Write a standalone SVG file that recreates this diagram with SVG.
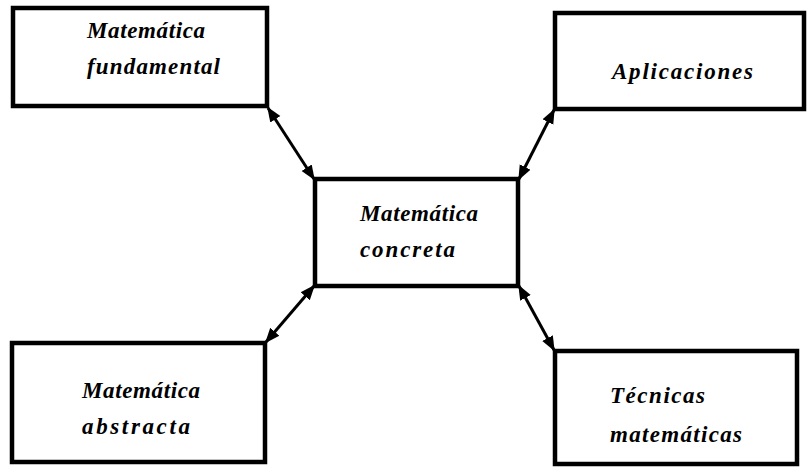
<svg xmlns="http://www.w3.org/2000/svg" width="807" height="471" viewBox="0 0 807 471">
<style>
.box{fill:#fff;stroke:#000;stroke-width:4.5}
.lbl{font-family:"Liberation Serif","DejaVu Serif",serif;font-style:italic;font-weight:bold;font-size:23px;fill:#000}
.conn{stroke:#000;stroke-width:3;fill:none;marker-start:url(#ah);marker-end:url(#ah)}
</style>
<defs>
<marker id="ah" viewBox="0 0 10 10" refX="9" refY="5" markerWidth="5" markerHeight="5" orient="auto-start-reverse" markerUnits="strokeWidth">
<path d="M0,1 L10,5 L0,9 z" fill="#000"/>
</marker>
</defs>
<rect width="807" height="471" fill="#fff"/>
<g id="connectors">
<line class="conn" x1="268" y1="108" x2="314" y2="179"/>
<line class="conn" x1="554" y1="110" x2="519" y2="179"/>
<line class="conn" x1="314" y1="286" x2="266" y2="342"/>
<line class="conn" x1="519" y1="286" x2="554" y2="350"/>
</g>
<g id="fundamental">
<rect class="box" x="13" y="8" width="254" height="98"/>
<text class="lbl" x="87" y="38" textLength="118" lengthAdjust="spacing">Matemática</text>
<text class="lbl" x="87" y="74" textLength="133" lengthAdjust="spacing">fundamental</text>
</g>
<g id="aplicaciones">
<rect class="box" x="555" y="13" width="249" height="96"/>
<text class="lbl" x="612" y="79" textLength="141" lengthAdjust="spacing">Aplicaciones</text>
</g>
<g id="concreta">
<rect class="box" x="315" y="179" width="203" height="107"/>
<text class="lbl" x="360" y="221" textLength="118" lengthAdjust="spacing">Matemática</text>
<text class="lbl" x="360" y="257" textLength="95" lengthAdjust="spacing">concreta</text>
</g>
<g id="abstracta">
<rect class="box" x="12" y="343" width="253" height="119"/>
<text class="lbl" x="82" y="398" textLength="118" lengthAdjust="spacing">Matemática</text>
<text class="lbl" x="82" y="434" textLength="108" lengthAdjust="spacing">abstracta</text>
</g>
<g id="tecnicas">
<rect class="box" x="555" y="351" width="242" height="113"/>
<text class="lbl" x="610" y="403" textLength="95" lengthAdjust="spacing">Técnicas</text>
<text class="lbl" x="610" y="442" textLength="132" lengthAdjust="spacing">matemáticas</text>
</g>
</svg>
